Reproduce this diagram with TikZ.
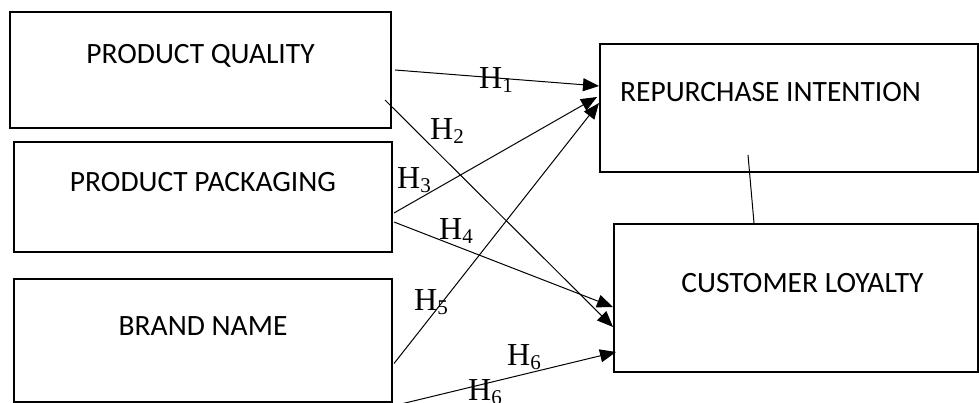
\documentclass[tikz,border=0pt]{standalone}
\usepackage{fontspec}
\setmainfont{Carlito}
\newfontfamily\hfont{Liberation Serif}
\usetikzlibrary{arrows.meta}
\newcommand{\hlab}[1]{H\raisebox{-3.5pt}{\fontsize{21}{21}\selectfont #1}}

\begin{document}
\begin{tikzpicture}[x=1pt,y=-1pt,
	box/.style={draw, rectangle, line width=2pt, inner sep=0pt},
	title/.style={anchor=base, font=\fontsize{29.5}{35}\selectfont},
	hyp/.style={font=\hfont\fontsize{32}{38}\selectfont, inner sep=0pt},
	arr/.style={line width=1pt, -{Triangle[length=16pt,width=13pt]}}]
\useasboundingbox (0,0) rectangle (979,403);

% constructs
\node[box, minimum width=381pt, minimum height=116pt]	(pq)	at (200.5,70)	{};
\node[box, minimum width=378pt, minimum height=110pt]	(pp)	at (203,197)	{};
\node[box, minimum width=378pt, minimum height=123pt]	(bn)	at (203,340.5)	{};
\node[box, minimum width=378pt, minimum height=128pt]	(ri)	at (789,108)	{};
\node[box, minimum width=364pt, minimum height=148pt]	(cl)	at (796,298)	{};

\node[title]	(pq-t)	at ([yshift=6pt]pq.center)				{PRODUCT QUALITY};
\node[title]	(pp-t)	at ([yshift=5pt]pp.center)				{PRODUCT PACKAGING};
\node[title]	(bn-t)	at ([yshift=5.5pt]bn.center)			{BRAND NAME};
\node[title]	(ri-t)	at ([xshift=-18.5pt,yshift=6pt]ri.center)	{REPURCHASE INTENTION};
\node[title]	(cl-t)	at ([xshift=6.5pt,yshift=6pt]cl.center)	{CUSTOMER LOYALTY};

% hypotheses
\path[arr]
([xshift=3pt]pq.east)					edge	([yshift=22pt]ri.west)
([xshift=-7pt,yshift=-30pt]pq.east)		edge	([yshift=-29pt]cl.west)
([xshift=1pt,yshift=-16pt]pp.east)		edge	([xshift=-2pt,yshift=11pt]ri.west)
([xshift=1pt,yshift=-25pt]pp.east)		edge	([yshift=-9pt]cl.west)
([xshift=1pt,yshift=-23pt]bn.east)		edge	([yshift=5pt]ri.west)
([xshift=8pt,yshift=-1pt]bn.south east)	edge	([xshift=3pt,yshift=-54pt]cl.west)
;
\draw[line width=1pt] ([xshift=-41pt,yshift=18pt]ri.south) -- ([xshift=-42pt]cl.north);

\node[hyp]	(h1)	at (496,80)		{\hlab{1}};
\node[hyp]	(h2)	at (447,131)	{\hlab{2}};
\node[hyp]	(h3)	at (414,180)	{\hlab{3}};
\node[hyp]	(h4)	at (456,231)	{\hlab{4}};
\node[hyp]	(h5)	at (431,302)	{\hlab{5}};
\node[hyp]	(h6a)	at (524,357)	{\hlab{6}};
\node[hyp]	(h6b)	at (485,392)	{\hlab{6}};
\end{tikzpicture}
\end{document}
